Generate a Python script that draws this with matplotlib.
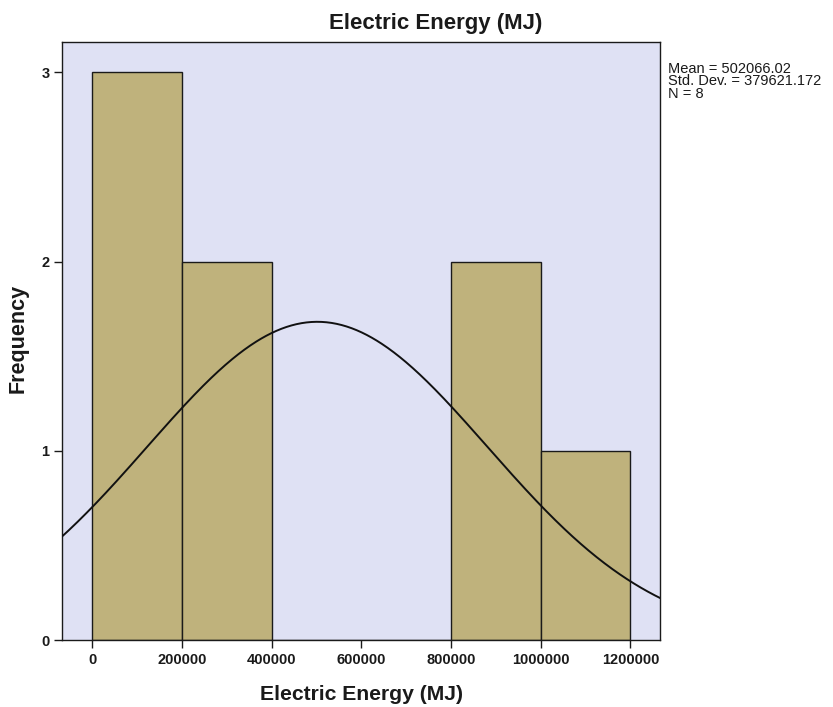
import numpy as np
import matplotlib
matplotlib.use("Agg")
import matplotlib.pyplot as plt

# Histogram of electric energy use with fitted normal curve
bin_edges = [0, 200000, 400000, 600000, 800000, 1000000, 1200000]
counts = [3, 2, 0, 0, 2, 1]
mean = 502066.02
std = 379621.172
n = 8
x_ticks = [0, 200000, 400000, 600000, 800000, 1000000, 1200000]
y_ticks = [0, 1, 2, 3]

plt.rcParams['font.family'] = ['Liberation Sans', 'DejaVu Sans']

W, H = 833, 707
fig = plt.figure(figsize=(W / 100, H / 100), dpi=100)
fig.patch.set_facecolor('white')
ax = fig.add_axes([62 / W, 1 - 640 / H, 598 / W, 598 / H])
ax.set_facecolor('#dfe1f4')

widths = np.diff(bin_edges)
ax.bar(bin_edges[:-1], counts, width=widths, align='edge',
       color='#bfb27c', edgecolor='#1a1a1a', linewidth=1.0, zorder=2)

xs = np.linspace(-70000, 1270000, 600)
binw = bin_edges[1] - bin_edges[0]
ys = n * binw / (std * np.sqrt(2 * np.pi)) * np.exp(-0.5 * ((xs - mean) / std) ** 2)
ax.plot(xs, ys, color='#111111', linewidth=1.4, zorder=3)

ax.set_xlim(-67000, 1266000)
ax.set_ylim(0, 3.16)
ax.set_xticks(x_ticks)
ax.set_xticklabels([str(t) for t in x_ticks])
ax.set_yticks(y_ticks)
ax.tick_params(axis='both', direction='out', length=6, width=1.0,
               labelsize=10.5, colors='#1a1a1a', pad=3)
for lbl in ax.get_xticklabels() + ax.get_yticklabels():
    lbl.set_fontweight('bold')
for s in ax.spines.values():
    s.set_color('#1a1a1a')
    s.set_linewidth(1.0)

fig.text(436 / W, 1 - 29.5 / H, 'Electric Energy (MJ)', fontsize=16,
         fontweight='bold', ha='center', va='baseline', color='#1a1a1a')
fig.text(361 / W, 1 - 700 / H, 'Electric Energy (MJ)', fontsize=15.2,
         fontweight='bold', ha='center', va='baseline', color='#1a1a1a')
fig.text(18 / W, 1 - 338 / H, 'Frequency', fontsize=15.5, rotation=90,
         fontweight='bold', ha='center', va='center', color='#1a1a1a')

fig.text(668 / W, 1 - 62 / H, 'Mean = 502066.02\nStd. Dev. = 379621.172\nN = 8',
         fontsize=10.5, va='top', ha='left', linespacing=0.85, color='#1a1a1a')

fig.savefig('out.png', dpi=100)
